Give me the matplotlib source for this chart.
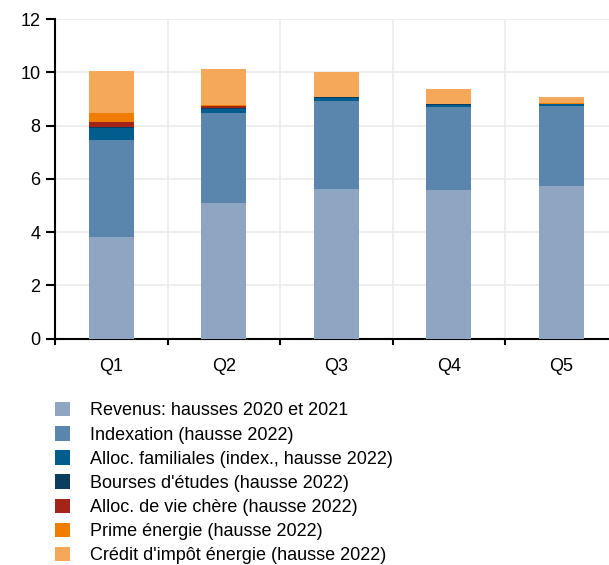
import matplotlib
matplotlib.use("Agg")
import matplotlib.pyplot as plt
import numpy as np
from matplotlib.patches import Patch

plt.rcParams['font.family'] = ['Liberation Sans', 'DejaVu Sans']

quintiles = ["Q1", "Q2", "Q3", "Q4", "Q5"]

revenus = [3.83, 5.08, 5.62, 5.58, 5.73]
indexation = [3.62, 3.40, 3.29, 3.11, 3.01]
alloc_familiales = [0.44, 0.15, 0.12, 0.09, 0.06]
bourses = [0.06, 0.04, 0.03, 0.03, 0.02]
vie_chere = [0.17, 0.06, 0.01, 0.005, 0.005]
prime_energie = [0.37, 0.03, 0.01, 0.005, 0.005]
credit_energie = [1.56, 1.35, 0.93, 0.56, 0.23]

series = [
    ("Revenus: hausses 2020 et 2021", revenus, "#8FA5C2"),
    ("Indexation (hausse 2022)", indexation, "#5A86AD"),
    ("Alloc. familiales (index., hausse 2022)", alloc_familiales, "#005D8D"),
    ("Bourses d'études (hausse 2022)", bourses, "#0A3D5E"),
    ("Alloc. de vie chère (hausse 2022)", vie_chere, "#A52418"),
    ("Prime énergie (hausse 2022)", prime_energie, "#F07D00"),
    ("Crédit d'impôt énergie (hausse 2022)", credit_energie, "#F5A85A"),
]

W, H = 609, 565
fig = plt.figure(figsize=(W / 100, H / 100), dpi=100)
ax = fig.add_axes([55 / W, 1 - 338.7 / H, 562.8 / W, 319.7 / H])

x = np.arange(len(quintiles))
bottom = np.zeros(len(quintiles))
for name, vals, col in series:
    ax.bar(x, vals, bottom=bottom, width=0.4, color=col, zorder=3, linewidth=0)
    bottom += np.array(vals)

ax.set_xlim(-0.5, 4.5)
ax.set_ylim(0, 12)
ax.set_yticks(np.arange(0, 13, 2))
ax.set_xticks(x)
ax.set_xticklabels(quintiles)
ax.set_xticks(np.arange(-0.5, 5, 1), minor=True)

ax.grid(axis="y", color="#EBEBEB", linewidth=1.2, zorder=0)
ax.grid(axis="x", which="minor", color="#EBEBEB", linewidth=1.2, zorder=0)
ax.grid(axis="x", which="major", visible=False)

for s in ["top", "right"]:
    ax.spines[s].set_visible(False)
for s in ["left", "bottom"]:
    ax.spines[s].set_linewidth(1.5)
    ax.spines[s].set_color("black")

ax.tick_params(axis="y", length=6.5, width=1.5, labelsize=13, pad=4)
ax.tick_params(axis="x", which="major", length=0, labelsize=13, pad=14)
ax.tick_params(axis="x", which="minor", length=4, width=1.5)

handles = [Patch(facecolor=c, edgecolor="none") for _, _, c in series]
labels = [n for n, _, _ in series]
fig.legend(handles, labels, loc="upper left", bbox_to_anchor=(55 / W, 1 - 402 / H),
           frameon=False, fontsize=13, handlelength=0.85, handleheight=0.85,
           handletextpad=1.1, labelspacing=0.37, borderpad=0, borderaxespad=0)

fig.savefig("out.png", dpi=100)
